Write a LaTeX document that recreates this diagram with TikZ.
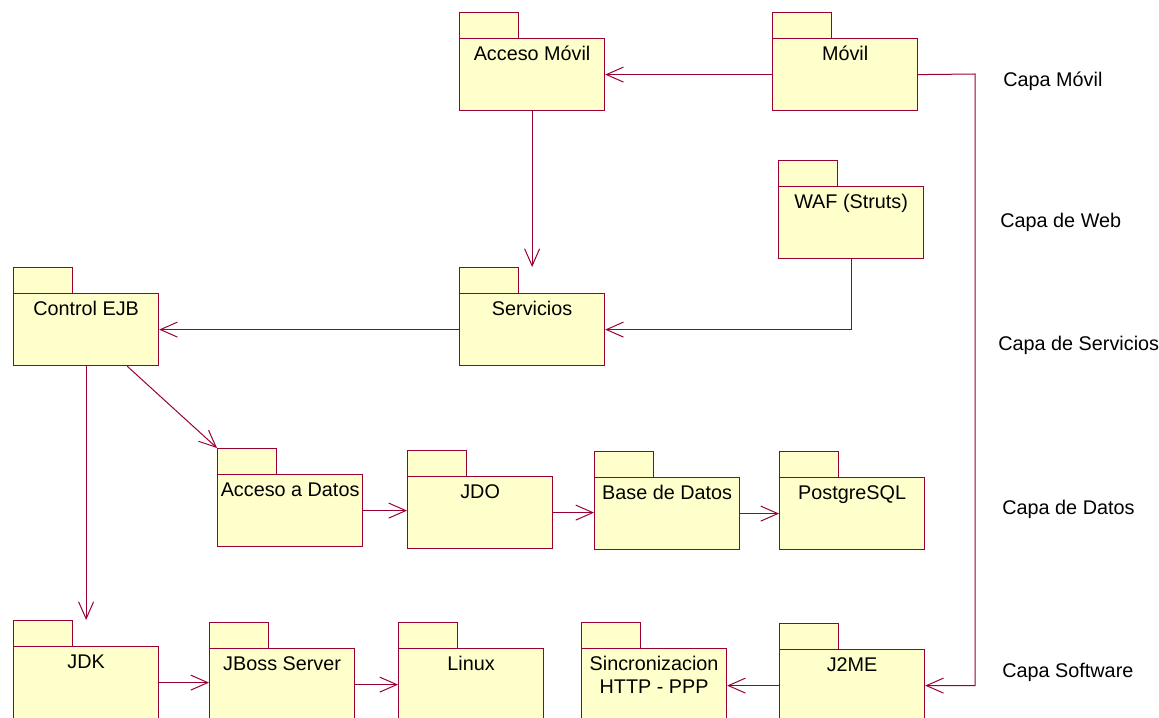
\documentclass[tikz,border=0pt]{standalone}
\usepackage{fontspec}
\setmainfont{Liberation Sans}
\usetikzlibrary{arrows.meta,calc}
\definecolor{pkgline}{RGB}{153,0,51}
\definecolor{pkgfill}{RGB}{255,255,204}
\tikzset{
  pkgbody/.style={draw=pkgline, fill=pkgfill, line width=0.6pt, anchor=north west,
    minimum width=72.5pt, minimum height=36pt, inner xsep=0pt, inner ysep=0pt,
    text height=11pt, text depth=25pt, align=center,
    font=\fontsize{9.9}{11.5}\selectfont},
  twoline/.style={text height=22.5pt, text depth=13.5pt},
  pkgtab/.style={draw=pkgline, fill=pkgfill, line width=0.6pt, anchor=north west,
    minimum width=29.5pt, minimum height=13pt, inner sep=0pt},
  dep/.style={draw=pkgline, line width=0.5pt, -{Straight Barb[length=8.5pt,width=7.5pt]}},
  layer/.style={anchor=base west, inner sep=0pt, font=\fontsize{9.9}{12}\selectfont},
}
\newcommand\pkgbox[5][]{% options, name, x, body top, text
  \node[pkgtab] (#2tab) at (#3,#4-26) {};
  \node[pkgbody,#1] (#2) at (#3,#4) {#5};
}
\begin{document}
\begin{tikzpicture}[x=0.5pt,y=-0.5pt]
\useasboundingbox (0,0) rectangle (1159,717);
% packages
\pkgbox{accmov}{459}{38}{Acceso Móvil}
\pkgbox{movil}{772}{38}{Móvil}
\pkgbox{waf}{778}{186}{WAF (Struts)}
\pkgbox{control}{13}{293}{Control EJB}
\pkgbox{servicios}{459}{293}{Servicios}
\pkgbox{accdat}{217}{474}{Acceso a Datos}
\pkgbox{jdo}{407}{476}{JDO}
\pkgbox{base}{594}{477}{Base de Datos}
\pkgbox{pg}{779}{477}{PostgreSQL}
\pkgbox{jdk}{13}{646}{JDK}
\pkgbox{jboss}{209}{648}{JBoss Server}
\pkgbox{linux}{398}{648}{Linux}
\pkgbox[twoline]{sinc}{581}{648}{Sincronizacion\\HTTP - PPP}
\pkgbox{jtwome}{779}{649}{J2ME}
% layer labels
\node[layer] (l1) at (1003,87) {Capa Móvil};
\node[layer] (l2) at (1000,227) {Capa de Web};
\node[layer] (l3) at (998,350) {Capa de Servicios};
\node[layer] (l4) at (1002,514) {Capa de Datos};
\node[layer] (l5) at (1002,677) {Capa Software};
% connectors
\coordinate (rc) at (975,74);
\draw[dep] (movil.west) -- (accmov.east);
\draw[dep] (movil.east) -- (rc) |- (jtwome.east);
\draw[dep] (accmov.south) -- ($(servicios.north)+(0,-26)$);
\draw[dep] (waf.south) |- (servicios.east);
\draw[dep] (servicios.west) -- (control.east);
\draw[dep] ($(control.south east)+(-32,0)$) -- (accdattab.north west);
\draw[dep] (control.south) -- ($(jdk.north)+(0,-26)$);
\draw[dep] (jdk.east) -- (jdk.east -| jboss.west);
\draw[dep] (jboss.east) -- (jboss.east -| linux.west);
\draw[dep] (jtwome.west) -- (jtwome.west -| sinc.east);
\draw[dep] (accdat.east) -- (accdat.east -| jdo.west);
\draw[dep] (jdo.east) -- (jdo.east -| base.west);
\draw[dep] (base.east) -- (base.east -| pg.west);
\end{tikzpicture}
\end{document}
